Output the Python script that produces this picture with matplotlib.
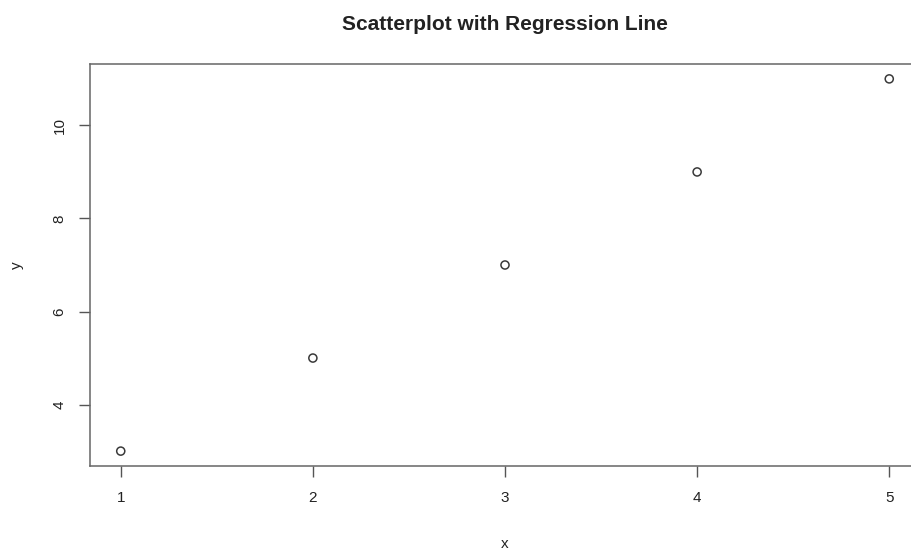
import numpy as np
import matplotlib.pyplot as plt

plt.rcParams['font.family'] = ['Liberation Sans', 'DejaVu Sans']

x = [1, 2, 3, 4, 5]
y = [3, 5, 7, 9, 11]
xticks = [1, 2, 3, 4, 5]
yticks = [4, 6, 8, 10]

fig = plt.figure(figsize=(9.12, 5.53), dpi=100)
W, H = 912, 553
ax = fig.add_axes([90 / W, 1 - 466 / H, (920 - 90) / W, (466 - 64) / H])

ax.scatter(x, y, s=34, facecolors='none', edgecolors='#3a3a3a', linewidths=1.1)

# R style: 4% padding
ax.set_xlim(0.84, 5.16)
ax.set_ylim(2.68, 11.32)
ax.set_xticks(xticks)
ax.set_yticks(yticks)
ax.set_yticklabels([str(v) for v in yticks], rotation=90, va='center')
ax.tick_params(direction='out', length=8, width=1, colors='#555555',
               labelcolor='#222222', labelsize=11)
ax.tick_params(axis='x', pad=10)
ax.tick_params(axis='y', pad=9)
for s in ax.spines.values():
    s.set_color('#666666')
    s.set_linewidth(1.1)
ax.spines['right'].set_visible(False)

fig.text(505 / W, 1 - 24 / H, 'Scatterplot with Regression Line',
         ha='center', va='center', fontsize=15, fontweight='bold', color='#222222')
fig.text(505 / W, 1 - 544 / H, 'x', ha='center', va='center', fontsize=11, color='#222222')
fig.text(17 / W, 1 - 265 / H, 'y', ha='center', va='center', fontsize=11,
         rotation=90, color='#222222')

fig.savefig('out.png', dpi=100)
